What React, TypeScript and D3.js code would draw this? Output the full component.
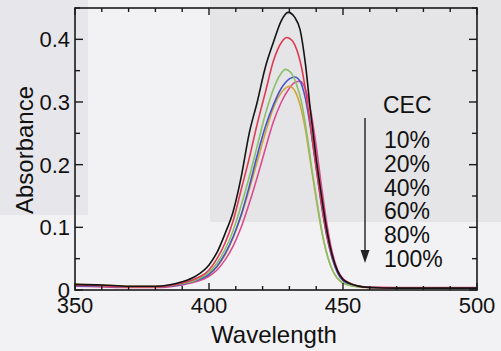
import * as d3 from 'd3'

// absorbance spectra, [wavelength nm, absorbance]
const cec10: [number, number][] = [
  [350, 0.009], [360, 0.008], [370, 0.006], [380, 0.006], [385, 0.008], [390, 0.013], [395, 0.022],
  [400, 0.04], [403, 0.06], [406, 0.09], [409, 0.125], [412, 0.18], [415, 0.25], [418, 0.3],
  [421, 0.355], [424, 0.395], [427, 0.43], [429.5, 0.443], [432, 0.435], [434, 0.415], [436, 0.36],
  [438, 0.28], [440, 0.21], [442, 0.15], [444, 0.095], [446, 0.055], [448, 0.03], [450, 0.017],
  [455, 0.007], [460, 0.004], [470, 0.003], [480, 0.003], [490, 0.003], [500, 0.003],
]
const cec20: [number, number][] = [
  [350, 0.008], [360, 0.007], [370, 0.005], [380, 0.005], [385, 0.007], [390, 0.011], [395, 0.018],
  [400, 0.032], [403, 0.05], [406, 0.075], [409, 0.11], [412, 0.16], [415, 0.21], [418, 0.265],
  [421, 0.315], [424, 0.365], [427, 0.395], [429, 0.403], [431, 0.398], [433, 0.38], [435, 0.345],
  [437, 0.29], [439, 0.225], [441, 0.165], [443, 0.11], [445, 0.068], [447, 0.04], [449, 0.022],
  [452, 0.012], [456, 0.006], [460, 0.004], [480, 0.003], [500, 0.003],
]
const cec40: [number, number][] = [
  [350, 0.008], [360, 0.007], [370, 0.005], [380, 0.005], [385, 0.007], [390, 0.01], [395, 0.016],
  [400, 0.028], [403, 0.043], [406, 0.065], [409, 0.095], [412, 0.135], [415, 0.18], [418, 0.23],
  [421, 0.28], [424, 0.32], [426.5, 0.343], [428.5, 0.352], [430.5, 0.347], [432.5, 0.33], [434.5, 0.3],
  [436.5, 0.25], [438.5, 0.19], [440.5, 0.135], [442.5, 0.085], [444.5, 0.05], [446.5, 0.028],
  [449, 0.014], [453, 0.007], [460, 0.004], [480, 0.003], [500, 0.003],
]
const cec60: [number, number][] = [
  [350, 0.007], [360, 0.006], [370, 0.005], [380, 0.005], [385, 0.006], [390, 0.009], [395, 0.015],
  [400, 0.025], [403, 0.038], [406, 0.058], [409, 0.085], [412, 0.12], [415, 0.165], [418, 0.215],
  [421, 0.26], [424, 0.295], [427, 0.322], [430, 0.337], [432, 0.34], [434, 0.333], [436, 0.305],
  [438, 0.255], [440, 0.195], [442, 0.135], [444, 0.085], [446, 0.05], [448, 0.027], [450, 0.015],
  [455, 0.006], [460, 0.004], [480, 0.003], [500, 0.003],
]
const cec80: [number, number][] = [
  [350, 0.009], [360, 0.008], [370, 0.006], [380, 0.006], [385, 0.007], [390, 0.01], [395, 0.015],
  [400, 0.025], [403, 0.037], [406, 0.056], [409, 0.083], [412, 0.118], [415, 0.16], [418, 0.205],
  [421, 0.25], [424, 0.29], [427, 0.315], [430, 0.325], [432, 0.318], [434, 0.295], [436, 0.255],
  [438, 0.2], [440, 0.145], [442, 0.095], [444, 0.057], [446, 0.032], [448, 0.018], [451, 0.009],
  [456, 0.005], [460, 0.004], [480, 0.003], [500, 0.003],
]
const cec100: [number, number][] = [
  [350, 0.006], [360, 0.005], [370, 0.004], [380, 0.004], [385, 0.005], [390, 0.008], [395, 0.013],
  [400, 0.022], [403, 0.032], [406, 0.048], [409, 0.07], [412, 0.1], [415, 0.138], [418, 0.18],
  [421, 0.225], [424, 0.268], [427, 0.3], [430, 0.322], [432, 0.331], [434, 0.333], [436, 0.32],
  [438, 0.285], [440, 0.23], [442, 0.165], [444, 0.105], [446, 0.06], [448, 0.032], [450, 0.018],
  [453, 0.009], [458, 0.005], [470, 0.004], [500, 0.004],
]

const seriesData = [cec10, cec20, cec40, cec60, cec80, cec100]
const seriesLabels = ['10%', '20%', '40%', '60%', '80%', '100%']
const seriesColors = ['#141414', '#e03a52', '#8cbf6a', '#4654c8', '#d2a43c', '#de4a90']

const xMajor = [350, 400, 450, 500]
const xMinor = d3.range(350, 501, 10)
const yMajor = [0, 0.1, 0.2, 0.3, 0.4]
const yMinor = d3.range(0, 0.451, 0.05)

const W = 501
const H = 351
const FONT = '"Liberation Sans", Arial, Helvetica, sans-serif'

export default function App() {
  const x = d3.scaleLinear().domain([350, 500]).range([75, 477])
  const y = d3.scaleLinear().domain([0, 0.45]).range([290, 8])
  const [x0, x1] = x.range()
  const [y0, y1] = y.range()

  const line = d3.line<[number, number]>()
    .x(d => x(d[0]))
    .y(d => y(d[1]))
    .curve(d3.curveMonotoneX)

  const axisColor = '#1a1a1a'
  const isMajorX = (v: number) => xMajor.includes(v)
  const isMajorY = (v: number) => yMajor.some(m => Math.abs(m - v) < 1e-6)

  return (
    <svg width={W} height={H} style={{ position: 'absolute', left: 0, top: 0 }} fontFamily={FONT}>
      {/* scanned paper background */}
      <rect x={0} y={0} width={W} height={H} fill="#f2f2f4" />
      <rect x={0} y={0} width={88} height={215} fill="#e7e7eb" />
      <rect x={210} y={0} width={W - 210} height={222} fill="#e5e5e7" />

      {/* curves, drawn 100% first so black sits on top */}
      {seriesData.map((s, i) => (
        <path key={seriesLabels[i]} d={line(s) ?? ''} fill="none"
          stroke={seriesColors[i]} strokeWidth={1.6} />
      )).reverse()}

      {/* frame */}
      <rect x={x0} y={y1} width={x1 - x0} height={y0 - y1} fill="none" stroke={axisColor} strokeWidth={1.6} />

      {/* x ticks, bottom + top, pointing inward */}
      {xMinor.map(v => {
        const len = isMajorX(v) ? 7 : 4
        return (
          <g key={'xt' + v} stroke={axisColor} strokeWidth={1.4}>
            <line x1={x(v)} x2={x(v)} y1={y0} y2={y0 - len} />
            <line x1={x(v)} x2={x(v)} y1={y1} y2={y1 + len} />
          </g>
        )
      })}
      {/* y ticks, left + right */}
      {yMinor.map(v => {
        const len = isMajorY(v) ? 8 : 5
        return (
          <g key={'yt' + v} stroke={axisColor} strokeWidth={1.4}>
            <line x1={x0} x2={x0 + len} y1={y(v)} y2={y(v)} />
            <line x1={x1} x2={x1 - len} y1={y(v)} y2={y(v)} />
          </g>
        )
      })}

      {/* tick labels */}
      {xMajor.map(v => (
        <text key={'xl' + v} x={x(v)} y={313} textAnchor="middle" fontSize={22} fill="#111">{v}</text>
      ))}
      {yMajor.map(v => (
        <text key={'yl' + v} x={70} y={y(v)} dy="0.36em" textAnchor="end" fontSize={22} fill="#111">
          {v === 0 ? '0' : d3.format('.1f')(v)}
        </text>
      ))}

      {/* axis titles */}
      <text x={274} y={343} textAnchor="middle" fontSize={24} fill="#111">Wavelength</text>
      <text transform="translate(33,150) rotate(-90)" textAnchor="middle" fontSize={24} fill="#111">Absorbance</text>

      {/* legend */}
      <text x={383} y={113} fontSize={23} fill="#111">CEC</text>
      {seriesLabels.map((l, i) => (
        <text key={'lg' + l} x={384} y={148 + i * 23.8} fontSize={23} fill="#111">{l}</text>
      ))}
      <line x1={365} x2={365} y1={118} y2={252} stroke="#222" strokeWidth={1.4} />
      <path d="M360.5,250 L369.5,250 L365,263 Z" fill="#222" />
    </svg>
  )
}
